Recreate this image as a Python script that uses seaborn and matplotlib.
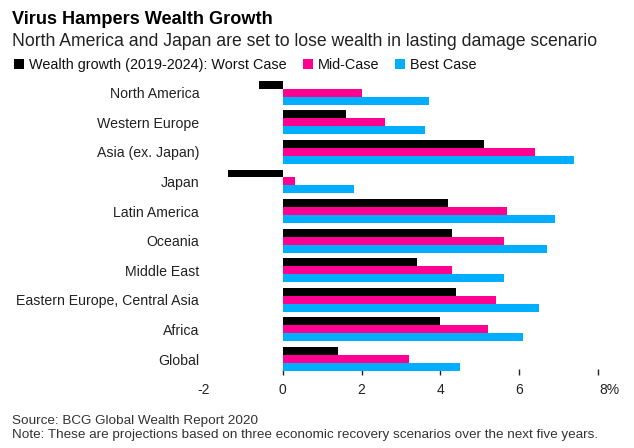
import matplotlib
matplotlib.use("Agg")
import matplotlib.pyplot as plt
import seaborn as sns
import pandas as pd
from matplotlib.transforms import ScaledTranslation

regions = ["North America", "Western Europe", "Asia (ex. Japan)", "Japan",
           "Latin America", "Oceania", "Middle East",
           "Eastern Europe, Central Asia", "Africa", "Global"]
worst = [-0.6, 1.6, 5.1, -1.4, 4.2, 4.3, 3.4, 4.4, 4.0, 1.4]
mid = [2.0, 2.6, 6.4, 0.3, 5.7, 5.6, 4.3, 5.4, 5.2, 3.2]
best = [3.7, 3.6, 7.4, 1.8, 6.9, 6.7, 5.6, 6.5, 6.1, 4.5]
series = ["Wealth growth (2019-2024): Worst Case", "Mid-Case", "Best Case"]
tick_vals = [-2, 0, 2, 4, 6, 8]
tick_labels = ["-2", "0", "2", "4", "6", "8%"]

title = "Virus Hampers Wealth Growth"
subtitle = "North America and Japan are set to lose wealth in lasting damage scenario"
source = "Source: BCG Global Wealth Report 2020"
note = "Note: These are projections based on three economic recovery scenarios over the next five years."

rows = []
for name, vals in zip(series, [worst, mid, best]):
    for r, v in zip(regions, vals):
        rows.append({"region": r, "series": name, "value": v})
df = pd.DataFrame(rows)

sns.set_theme(style="white")
plt.rcParams["font.family"] = ["Liberation Sans", "DejaVu Sans"]

W, H = 634, 448
fig = plt.figure(figsize=(W / 100, H / 100), dpi=100)
ax_top, ax_bot = 77.9, 371.5
ax = fig.add_axes([204 / W, (H - ax_bot) / H, 402 / W, (ax_bot - ax_top) / H])

palette = ["#000000", "#ff0090", "#00aeff"]
sns.barplot(data=df, y="region", x="value", hue="series", order=regions,
            hue_order=series, palette=palette, orient="h", width=0.81,
            saturation=1, linewidth=0, ax=ax, legend=True)

ax.set_xlim(-2, 8.2)
ax.set_ylim(9.42, -0.5)
ax.set_xlabel("")
ax.set_ylabel("")
for s in ax.spines.values():
    s.set_visible(False)
ax.set_xticks(tick_vals)
ax.set_xticklabels(tick_labels)
ax.tick_params(axis="x", length=5, width=1, color="#222222", direction="inout",
               labelsize=10, labelcolor="#222222", pad=6, bottom=True)
ax.tick_params(axis="y", length=0, labelsize=10.2, labelcolor="#222222", pad=3.5)
xt = ax.xaxis.get_major_ticks()
xt[0].tick1line.set_visible(False)
for t in xt:
    t.tick1line.set_zorder(5)
lbl = ax.get_xticklabels()
lbl[-1].set_transform(lbl[-1].get_transform() + ScaledTranslation(0.11, 0, fig.dpi_scale_trans))

handles, labels = ax.get_legend_handles_labels()
ax.get_legend().remove()
fig.legend(handles, labels, loc="center left", bbox_to_anchor=(14 / W, 1 - 65 / H),
           ncol=3, frameon=False, fontsize=10.4, handlelength=0.7, handleheight=0.7,
           handletextpad=0.35, columnspacing=1.1, labelcolor="#111111",
           borderaxespad=0, borderpad=0)

fig.text(12 / W, 1 - 19 / H, title, fontsize=13.1, fontweight="bold", color="#000000",
         va="center", ha="left")
fig.text(12 / W, 1 - 41 / H, subtitle, fontsize=12.7, color="#222222",
         va="center", ha="left")
fig.text(12 / W, 1 - 421 / H, source, fontsize=9.7, color="#333333", va="center", ha="left")
fig.text(12 / W, 1 - 435 / H, note, fontsize=9.7, color="#333333", va="center", ha="left")

fig.savefig("out.png", dpi=100)
